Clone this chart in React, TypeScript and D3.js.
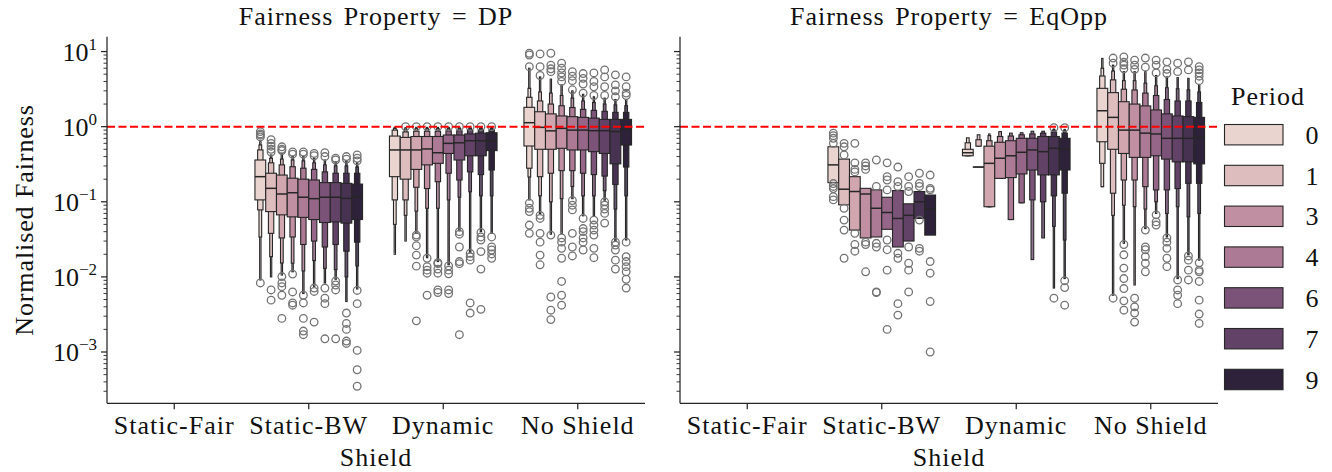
import * as d3 from 'd3';

// ---- data (log-scale values) ----
const properties = ['DP', 'EqOpp'];
const shields = ['Static-Fair', 'Static-BW', 'Dynamic', 'No Shield'];
const periods = [0, 1, 2, 3, 4, 5, 6, 7, 8, 9];
const legendPeriods = [0, 1, 3, 4, 6, 7, 9];

type Box = { m: number; lv: [number, number][]; out: number[] };

// m = median, lv = letter-value ranges from the inner box outwards, out = outliers
const dpStaticBW: Box[] = [
  { m: 0.216, lv: [[0.106, 0.36], [0.078, 0.49], [0.034, 0.57], [0.0091, 0.63]], out: [0.86, 0.8, 0.77, 0.73, 0.0083] },
  { m: 0.151, lv: [[0.074, 0.24], [0.038, 0.33], [0.0186, 0.38], [0.01, 0.42]], out: [0.67, 0.6, 0.55, 0.5, 0.46, 0.0067, 0.0049] },
  { m: 0.127, lv: [[0.067, 0.227], [0.033, 0.31], [0.0153, 0.37], [0.0106, 0.44]], out: [0.54, 0.5, 0.48, 0.0101, 0.0083, 0.0074, 0.0057, 0.0028] },
  { m: 0.132, lv: [[0.063, 0.206], [0.034, 0.293], [0.0152, 0.36], [0.0117, 0.4]], out: [0.46, 0.43, 0.0109, 0.0063, 0.0045, 0.0042] },
  { m: 0.115, lv: [[0.062, 0.2], [0.027, 0.28], [0.012, 0.35], [0.006, 0.4]], out: [0.46, 0.43, 0.0057, 0.0045, 0.0028, 0.0019, 0.0017] },
  { m: 0.11, lv: [[0.058, 0.195], [0.03, 0.27], [0.0165, 0.33], [0.0075, 0.38]], out: [0.44, 0.41, 0.0071, 0.0064, 0.0025] },
  { m: 0.115, lv: [[0.053, 0.18], [0.025, 0.25], [0.013, 0.31], [0.0083, 0.36]], out: [0.45, 0.4, 0.0071, 0.0052, 0.0044, 0.0015] },
  { m: 0.115, lv: [[0.054, 0.18], [0.027, 0.24], [0.0125, 0.3], [0.0093, 0.34]], out: [0.38, 0.36, 0.0088, 0.0078, 0.0067, 0.0015] },
  { m: 0.111, lv: [[0.052, 0.176], [0.022, 0.24], [0.01, 0.3], [0.0047, 0.35]], out: [0.4, 0.37, 0.0033, 0.0024, 0.002, 0.0014, 0.0013] },
  { m: 0.117, lv: [[0.058, 0.172], [0.029, 0.24], [0.014, 0.29], [0.0069, 0.33]], out: [0.42, 0.38, 0.35, 0.0066, 0.0044, 0.00105, 0.00058, 0.00035] },
];

const dpDynamic: Box[] = [
  { m: 0.49, lv: [[0.216, 0.75], [0.106, 0.9], [0.05, 0.95], [0.02, 0.98]], out: [] },
  { m: 0.49, lv: [[0.2, 0.72], [0.106, 0.85], [0.066, 0.93], [0.03, 0.97]], out: [1.0] },
  { m: 0.49, lv: [[0.27, 0.74], [0.156, 0.87], [0.075, 0.94], [0.038, 0.98]], out: [1.0, 0.036, 0.034, 0.026, 0.0195, 0.0139, 0.0026] },
  { m: 0.505, lv: [[0.31, 0.74], [0.15, 0.87], [0.082, 0.94], [0.018, 0.98]], out: [1.0, 0.0177, 0.0137, 0.0123, 0.0112, 0.0057] },
  { m: 0.45, lv: [[0.325, 0.74], [0.185, 0.87], [0.082, 0.94], [0.016, 0.98]], out: [1.0, 0.0155, 0.015, 0.0127, 0.0112, 0.0067, 0.0062] },
  { m: 0.6, lv: [[0.44, 0.775], [0.24, 0.88], [0.106, 0.94], [0.0145, 0.98]], out: [1.0, 0.014, 0.0123, 0.011, 0.0067, 0.006] },
  { m: 0.61, lv: [[0.36, 0.775], [0.195, 0.88], [0.115, 0.94], [0.041, 0.98]], out: [1.0, 0.04, 0.037, 0.025, 0.016, 0.015, 0.0017] },
  { m: 0.65, lv: [[0.41, 0.8], [0.25, 0.9], [0.136, 0.95], [0.021, 0.98]], out: [1.0, 0.0206, 0.0186, 0.0167, 0.0045, 0.0033] },
  { m: 0.65, lv: [[0.41, 0.82], [0.23, 0.9], [0.12, 0.95], [0.04, 0.98]], out: [1.0, 0.039, 0.034, 0.031, 0.0217, 0.0127, 0.0037] },
  { m: 0.65, lv: [[0.48, 0.83], [0.265, 0.9], [0.12, 0.95], [0.038, 0.98]], out: [1.0, 0.034, 0.025, 0.0228, 0.0202, 0.0177] },
];

const dpNoShield: Box[] = [
  { m: 1.13, lv: [[0.553, 1.81], [0.28, 2.46], [0.214, 3.24], [0.106, 6.0]], out: [9.5, 9.0, 6.3, 0.096, 0.082, 0.074, 0.049, 0.038] },
  { m: 0.98, lv: [[0.5, 1.58], [0.216, 2.2], [0.12, 2.9], [0.07, 4.6]], out: [9.3, 6.3, 4.8, 0.066, 0.06, 0.038, 0.029, 0.0195, 0.0145] },
  { m: 0.88, lv: [[0.5, 1.48], [0.24, 2.0], [0.1, 2.8], [0.037, 4.3]], out: [9.5, 6.6, 5.9, 5.4, 0.036, 0.0054, 0.0036, 0.0027] },
  { m: 0.95, lv: [[0.515, 1.39], [0.26, 1.9], [0.11, 2.6], [0.038, 3.6]], out: [7.0, 6.0, 5.2, 4.6, 4.0, 0.033, 0.029, 0.024, 0.0177, 0.0087, 0.0057, 0.0042] },
  { m: 0.9, lv: [[0.49, 1.36], [0.26, 1.8], [0.16, 2.4], [0.11, 3.0]], out: [5.4, 4.7, 4.1, 3.1, 0.104, 0.09, 0.078, 0.038, 0.025, 0.019] },
  { m: 0.9, lv: [[0.49, 1.33], [0.24, 1.7], [0.12, 2.2], [0.065, 2.7]], out: [5.1, 4.4, 3.7, 2.8, 0.06, 0.044, 0.04, 0.033, 0.029, 0.0228] },
  { m: 0.885, lv: [[0.465, 1.3], [0.23, 1.65], [0.12, 2.1], [0.065, 2.5]], out: [5.2, 4.0, 3.4, 2.6, 0.057, 0.049, 0.042, 0.036, 0.024, 0.018] },
  { m: 0.885, lv: [[0.44, 1.25], [0.22, 1.6], [0.14, 2.0], [0.105, 2.4]], out: [5.7, 4.6, 3.4, 2.6, 0.1, 0.09, 0.08, 0.07, 0.052] },
  { m: 0.86, lv: [[0.32, 1.25], [0.17, 1.55], [0.08, 1.95], [0.03, 2.3]], out: [4.9, 3.6, 3.0, 2.5, 0.029, 0.0265, 0.0228, 0.0167, 0.0127] },
  { m: 0.92, lv: [[0.57, 1.25], [0.29, 1.55], [0.12, 1.9], [0.031, 2.3]], out: [4.6, 3.4, 2.8, 2.6, 0.029, 0.0186, 0.016, 0.0137, 0.0117, 0.0093, 0.0071] },
];

const eqStaticBW: Box[] = [
  { m: 0.31, lv: [[0.18, 0.54]], out: [0.82, 0.76, 0.7, 0.6, 0.175, 0.16, 0.15, 0.117, 0.106] },
  { m: 0.147, lv: [[0.091, 0.37]], out: [0.6, 0.54, 0.42, 0.082, 0.057, 0.042, 0.0177] },
  { m: 0.137, lv: [[0.042, 0.216]], out: [0.6, 0.33, 0.27, 0.25, 0.038, 0.027, 0.022] },
  { m: 0.127, lv: [[0.033, 0.151]], out: [0.33, 0.3, 0.27, 0.029, 0.027, 0.0117] },
  { m: 0.082, lv: [[0.034, 0.144]], out: [0.36, 0.16, 0.028, 0.025, 0.0063, 0.0062] },
  { m: 0.072, lv: [[0.043, 0.115]], out: [0.33, 0.216, 0.195, 0.144, 0.031, 0.023, 0.0123, 0.002] },
  { m: 0.06, lv: [[0.025, 0.141]], out: [0.29, 0.185, 0.16, 0.0206, 0.0177, 0.0044, 0.0031] },
  { m: 0.066, lv: [[0.03, 0.094]], out: [0.216, 0.16, 0.137, 0.025, 0.0152, 0.0123, 0.0063] },
  { m: 0.1, lv: [[0.06, 0.137]], out: [0.24, 0.176, 0.16, 0.057, 0.024, 0.022] },
  { m: 0.08, lv: [[0.036, 0.123]], out: [0.227, 0.151, 0.144, 0.016, 0.0112, 0.0047, 0.001] },
];

const eqDynamic: Box[] = [
  { m: 0.45, lv: [[0.41, 0.5], [0.41, 0.61], [0.41, 0.71]], out: [] },
  { m: 0.29, lv: [[0.29, 0.29], [0.55, 0.67], [0.55, 0.78]], out: [] },
  { m: 0.325, lv: [[0.086, 0.55], [0.086, 0.65], [0.086, 0.76], [0.086, 0.8]], out: [] },
  { m: 0.38, lv: [[0.205, 0.62], [0.205, 0.74], [0.205, 0.86]], out: [] },
  { m: 0.41, lv: [[0.21, 0.65], [0.058, 0.75], [0.058, 0.82]], out: [] },
  { m: 0.456, lv: [[0.235, 0.7], [0.097, 0.78], [0.097, 0.83]], out: [] },
  { m: 0.49, lv: [[0.265, 0.7], [0.106, 0.8], [0.017, 0.87]], out: [] },
  { m: 0.465, lv: [[0.228, 0.74], [0.1, 0.82], [0.033, 0.87]], out: [] },
  { m: 0.515, lv: [[0.228, 0.74], [0.12, 0.85], [0.047, 0.9], [0.0071, 0.93]], out: [0.97, 0.0052] },
  { m: 0.5, lv: [[0.265, 0.7], [0.13, 0.82], [0.031, 0.88], [0.0095, 0.92]], out: [0.97, 0.0089, 0.0072, 0.0042] },
];

const eqNoShield: Box[] = [
  { m: 1.63, lv: [[0.63, 3.24], [0.325, 4.73], [0.159, 6.0], [0.159, 8.1]], out: [] },
  { m: 1.33, lv: [[0.5, 2.84], [0.13, 4.2], [0.066, 5.5], [0.0057, 6.6]], out: [8.2, 7.0, 0.0052] },
  { m: 0.9, lv: [[0.44, 2.15], [0.195, 3.15], [0.09, 4.1], [0.028, 5.4]], out: [8.5, 7.2, 6.6, 5.9, 0.027, 0.0197, 0.0131, 0.0095, 0.007, 0.0048, 0.0036] },
  { m: 0.9, lv: [[0.39, 2.0], [0.195, 3.08], [0.086, 4.1], [0.0078, 5.4]], out: [7.7, 6.6, 5.8, 0.0052, 0.004, 0.0033, 0.0025] },
  { m: 0.82, lv: [[0.39, 1.89], [0.159, 2.8], [0.08, 3.8], [0.044, 5.4]], out: [8.2, 6.2, 0.042, 0.025, 0.023, 0.0186, 0.0152, 0.0117] },
  { m: 0.8, lv: [[0.41, 1.67], [0.144, 2.6], [0.1, 3.5], [0.07, 4.8]], out: [7.7, 6.6, 5.2, 0.067, 0.054, 0.049] },
  { m: 0.7, lv: [[0.37, 1.48], [0.144, 2.3], [0.07, 3.3], [0.034, 4.6]], out: [7.3, 5.8, 5.1, 0.033, 0.029, 0.024, 0.0177, 0.0137] },
  { m: 0.7, lv: [[0.34, 1.39], [0.15, 2.2], [0.086, 3.2], [0.0095, 4.5]], out: [7.0, 5.4, 0.0091, 0.0067, 0.0057, 0.0044] },
  { m: 0.7, lv: [[0.34, 1.36], [0.176, 2.2], [0.063, 3.1], [0.0197, 4.4]], out: [7.3, 5.7, 0.019, 0.0167, 0.0123, 0.0091] },
  { m: 0.72, lv: [[0.32, 1.33], [0.176, 2.1], [0.07, 2.9], [0.0167, 3.6]], out: [6.3, 5.7, 5.2, 4.7, 4.1, 0.0154, 0.0123, 0.0117, 0.0087, 0.0049, 0.0032, 0.0024] },
];

const panelData: Record<string, Record<string, Box[]>> = {
  DP: { 'Static-Fair': [], 'Static-BW': dpStaticBW, Dynamic: dpDynamic, 'No Shield': dpNoShield },
  EqOpp: { 'Static-Fair': [], 'Static-BW': eqStaticBW, Dynamic: eqDynamic, 'No Shield': eqNoShield },
};

// ---- layout ----
const FONT = "'Liberation Serif', 'Times New Roman', serif";
const TXT = '#111';
const AX = '#262626';
const panelX: [number, number][] = [[107, 645], [680, 1218]];
const yTop = 36.7;
const yBottom = 403.3;

// seaborn's default cubehelix palette for a numeric hue, desaturated to 0.75
function cubehelix(x: number) {
  const s = 0, r = 0.4, h = 0.8;
  const a = (h * x * (1 - x)) / 2;
  const phi = 2 * Math.PI * (s / 3 + r * x);
  const c = Math.cos(phi), sn = Math.sin(phi);
  const clip = (v: number) => Math.max(0, Math.min(1, v)) * 255;
  return d3.rgb(
    clip(x + a * (-0.14861 * c + 1.78277 * sn)),
    clip(x + a * (-0.29227 * c - 0.90649 * sn)),
    clip(x + a * (1.97294 * c)),
  );
}
function periodColor(p: number) {
  const t = (p - d3.min(periods)!) / (d3.max(periods)! - d3.min(periods)!);
  const hsl = d3.hsl(cubehelix(0.85 - 0.7 * t));
  hsl.s *= 0.75;
  return hsl.formatHex();
}
function levelColor(col: string, i: number) {
  const t = Math.min(1, Math.pow(2, (-i + 1) / 3));
  const light = d3.hsl(col);
  light.l = 0.95;
  return d3.interpolateRgb(light.formatHex(), col)(t);
}
const widthFactor = [1, 0.5, 0.25, 0.125, 0.0625];

const y = d3.scaleLog().domain([Math.pow(10, -3.683), Math.pow(10, 1.198)]).range([yBottom, yTop]);
const majorTicks = [-3, -2, -1, 0, 1];
const minorTicks: number[] = [];
for (let e = -4; e <= 1; e++) for (let k = 2; k <= 9; k++) {
  const v = k * Math.pow(10, e);
  if (v >= y.domain()[0] && v <= y.domain()[1]) minorTicks.push(v);
}
const supers = (e: number) => (e < 0 ? '\u2212' + Math.abs(e) : String(e));

function Panel({ prop, idx }: { prop: string; idx: number }) {
  const [x0, x1] = panelX[idx];
  const x = d3.scaleBand().domain(shields).range([x0, x1]);
  const bw = x.bandwidth();
  const hue = d3.scaleBand<number>().domain(periods).range([bw * 0.1, bw * 0.9]);
  const boxW = hue.bandwidth();
  const data = panelData[prop];
  const cx = (x0 + x1) / 2;

  return (
    <g>
      <text x={cx} y={25} textAnchor="middle" fontFamily={FONT} fontSize={26} letterSpacing={1} wordSpacing={3} fill={TXT}>
        {`Fairness Property = ${prop}`}
      </text>

      {shields.map((s) =>
        (data[s] || []).map((b, i) => {
          const c = x(s)! + hue(periods[i])! + boxW / 2;
          const col = periodColor(periods[i]);
          return (
            <g key={s + i}>
              {b.lv.map((l, j) => ({ l, j })).reverse().map(({ l, j }) => {
                const w = boxW * widthFactor[j];
                return (
                  <rect key={j} x={c - w / 2} y={y(l[1])} width={w} height={Math.max(0.01, y(l[0]) - y(l[1]))}
                    fill={levelColor(col, j)} stroke={AX} strokeWidth={1.1} />
                );
              })}
              <line x1={c - boxW / 2} x2={c + boxW / 2} y1={y(b.m)} y2={y(b.m)} stroke={AX} strokeWidth={1.5} />
              {b.out.map((o, k) => (
                <circle key={k} cx={c} cy={y(o)} r={3.8} fill="none" stroke="#737373" strokeWidth={1.3} />
              ))}
            </g>
          );
        }),
      )}

      <line x1={x0} x2={x1} y1={y(1)} y2={y(1)} stroke="#ff0000" strokeWidth={2} strokeDasharray="8,3.5" />

      {/* spines */}
      <line x1={x0} x2={x0} y1={yTop} y2={yBottom} stroke={AX} strokeWidth={1.25} />
      <line x1={x0} x2={x1} y1={yBottom} y2={yBottom} stroke={AX} strokeWidth={1.25} />

      {majorTicks.map((e) => (
        <g key={e}>
          <line x1={x0 - 6} x2={x0} y1={y(Math.pow(10, e))} y2={y(Math.pow(10, e))} stroke={AX} strokeWidth={1.25} />
          {idx === 0 && (
            <text x={97} y={y(Math.pow(10, e)) + 9} textAnchor="end" fontFamily={FONT} fontSize={26} fill={TXT}>
              10<tspan dy={-11} fontSize={17}>{supers(e)}</tspan>
            </text>
          )}
        </g>
      ))}
      {minorTicks.map((v, i) => (
        <line key={i} x1={x0 - 3.5} x2={x0} y1={y(v)} y2={y(v)} stroke={AX} strokeWidth={0.9} />
      ))}

      {shields.map((s) => (
        <g key={s}>
          <line x1={x(s)! + bw / 2} x2={x(s)! + bw / 2} y1={yBottom} y2={yBottom + 6} stroke={AX} strokeWidth={1.25} />
          <text x={x(s)! + bw / 2} y={434} textAnchor="middle" fontFamily={FONT} fontSize={26} letterSpacing={1} fill={TXT}>{s}</text>
        </g>
      ))}
      <text x={cx} y={466} textAnchor="middle" fontFamily={FONT} fontSize={26} letterSpacing={1} fill={TXT}>Shield</text>
    </g>
  );
}

function Legend() {
  return (
    <g>
      <text x={1268} y={105} textAnchor="middle" fontFamily={FONT} fontSize={26} letterSpacing={1} fill={TXT}>Period</text>
      {legendPeriods.map((p, i) => {
        const cy = 134.7 + i * 40.8;
        return (
          <g key={p}>
            <rect x={1224.5} y={cy - 10.2} width={58.5} height={20.4} fill={periodColor(p)} stroke={AX} strokeWidth={1.1} />
            <text x={1312} y={cy + 9} textAnchor="middle" fontFamily={FONT} fontSize={26} fill={TXT}>{p}</text>
          </g>
        );
      })}
    </g>
  );
}

export default function App() {
  return (
    <svg width={1332} height={472} style={{ position: 'absolute', left: 0, top: 0, background: '#fff' }}>
      <rect width={1332} height={472} fill="#fff" />
      {properties.map((p, i) => (
        <Panel key={p} prop={p} idx={i} />
      ))}
      <text transform="translate(33,220) rotate(-90)" textAnchor="middle" fontFamily={FONT} fontSize={26} letterSpacing={0.9} fill={TXT}>
        Normalised Fairness
      </text>
      <Legend />
    </svg>
  );
}
